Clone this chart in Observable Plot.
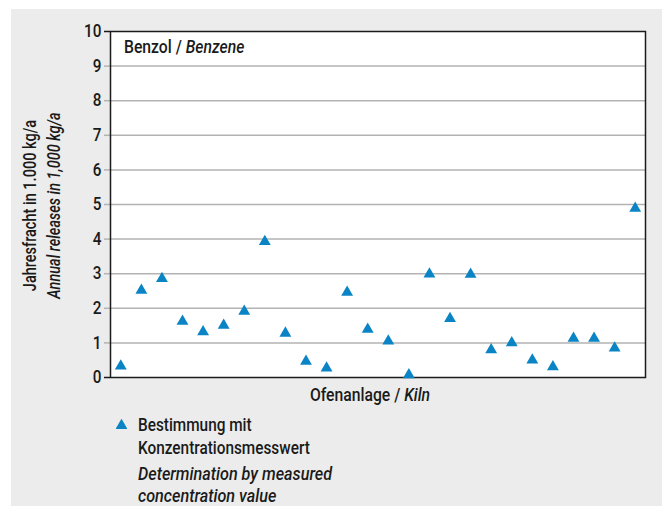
<!DOCTYPE html>
<html><head><meta charset="utf-8">
<script src="https://cdn.jsdelivr.net/npm/d3@7"></script>
<script src="https://cdn.jsdelivr.net/npm/@observablehq/plot@0.6"></script>
<style>
html,body{margin:0;padding:0;background:#fff;}
body{width:668px;height:506px;overflow:hidden;position:relative;font-family:Roboto,"Liberation Sans",sans-serif;color:#1a1a1a;}
#panel{position:absolute;left:11px;top:9px;width:651px;height:497px;background:#ebeceb;}
#chart{position:absolute;left:0;top:0;}
#legend{position:absolute;left:0;top:400px;width:651px;height:97px;font-size:18.5px;font-weight:500;}
#legend .ln{position:absolute;left:126.5px;line-height:22px;white-space:nowrap;transform:scaleX(0.83);transform-origin:0 0;}
#legend .ln.it{font-style:italic;transform:scaleX(0.875);}
#legend svg{position:absolute;left:105px;top:10px;}
</style>
</head><body>
<div id="panel"><div id="chart"></div>
<div id="legend">
<svg width="11" height="11" id="legsym"></svg>
<div class="ln" style="top:5px">Bestimmung mit</div>
<div class="ln" style="top:27.5px">Konzentrationsmesswert</div>
<div class="ln it" style="top:53.5px">Determination by measured</div>
<div class="ln it" style="top:75.5px">concentration value</div>
</div></div>
<script>
const kilns = d3.range(1, 27);
const releases = [0.33, 2.52, 2.86, 1.62, 1.32, 1.51, 1.91, 3.93, 1.28, 0.47, 0.27, 2.46, 1.39, 1.05, 0.08, 2.99, 1.70, 2.98, 0.80, 1.00, 0.50, 0.31, 1.13, 1.13, 0.85, 4.89];
const yTicks = [0, 1, 2, 3, 4, 5, 6, 7, 8, 9, 10];
const gridTicks = [1, 2, 3, 4, 5, 6, 7, 8, 9];
const edgeTicks = [0, 10];
const pollutant = ["Benzol / ", "Benzene"];
const yTitle1 = "Jahresfracht in 1.000 kg/a";
const yTitle2 = "Annual releases in 1,000 kg/a";
const xTitle = ["Ofenanlage / ", "Kiln"];

const SX = 0.85;
const FS = 18.5;
const ff = 'Roboto,"Liberation Sans",sans-serif';
const blue = "#0a84c4";
const ink = "#1a1a1a";
const data = kilns.map((k, i) => ({kiln: k, value: releases[i]}));

const plot = Plot.plot({
  width: 651,
  height: 400,
  marginLeft: 99,
  marginRight: 17,
  marginTop: 22,
  marginBottom: 32,
  style: {background: "transparent", fontFamily: ff, fontSize: FS + "px", fontWeight: 500, color: ink, overflow: "visible"},
  x: {type: "point", domain: kilns, padding: 0.5, round: false, axis: null},
  y: {domain: [0, 10], axis: null},
  marks: [
    Plot.frame({fill: "white", stroke: "none"}),
    Plot.gridY(gridTicks, {stroke: "#b3b3b3", strokeOpacity: 1, strokeWidth: 1.5}),
    Plot.axisY(gridTicks, {tickSize: 6, tickFormat: () => "", stroke: "#b3b3b3", strokeOpacity: 1, strokeWidth: 1.5, label: null}),
    Plot.axisY(edgeTicks, {tickSize: 6, tickFormat: () => "", stroke: ink, strokeWidth: 1.5, label: null}),
    Plot.axisY(yTicks, {tickSize: 0, tickPadding: 9, fill: ink, label: null, fontSize: 18, ariaLabel: "ylabels"}),
    Plot.frame({stroke: ink, strokeWidth: 1.5}),
    Plot.dot(data, {x: "kiln", y: "value", symbol: "triangle", r: 4.4, fill: blue, stroke: "none"})
  ]
});
document.getElementById("chart").appendChild(plot);

// condense tick labels horizontally (narrow typeface look)
plot.querySelectorAll("text").forEach(el => {
  if (!el.textContent) return;
  const tr = el.getAttribute("transform") || "";
  el.setAttribute("transform", `${tr} scale(${SX},1)`);
});

const svg = d3.select(plot);
function label(transform, anchor, parts, size, sx) {
  const t = svg.append("text").attr("transform", transform + ` scale(${sx},1)`)
    .attr("text-anchor", anchor).attr("font-size", size).attr("font-family", ff).attr("font-weight", 500).attr("fill", ink);
  parts.forEach(([s, it]) => t.append("tspan").attr("font-style", it ? "italic" : "normal").text(s));
}
label("translate(113,43.5)", "start", [[pollutant[0], false], [pollutant[1], true]], FS, SX);
label("translate(25,196.5) rotate(-90)", "middle", [[yTitle1, false]], 17.5, 0.83);
label("translate(48.5,196.5) rotate(-90)", "middle", [[yTitle2, true]], 17.5, 0.83);
label("translate(359,391.7)", "middle", [[xTitle[0], false], [xTitle[1], true]], FS, SX);

d3.select("#legsym").append("path").attr("transform", "translate(5.5,6.5)")
  .attr("d", d3.symbol(d3.symbolTriangle, 4.4 * 4.4 * Math.PI)()).attr("fill", blue);
</script>
</body></html>
